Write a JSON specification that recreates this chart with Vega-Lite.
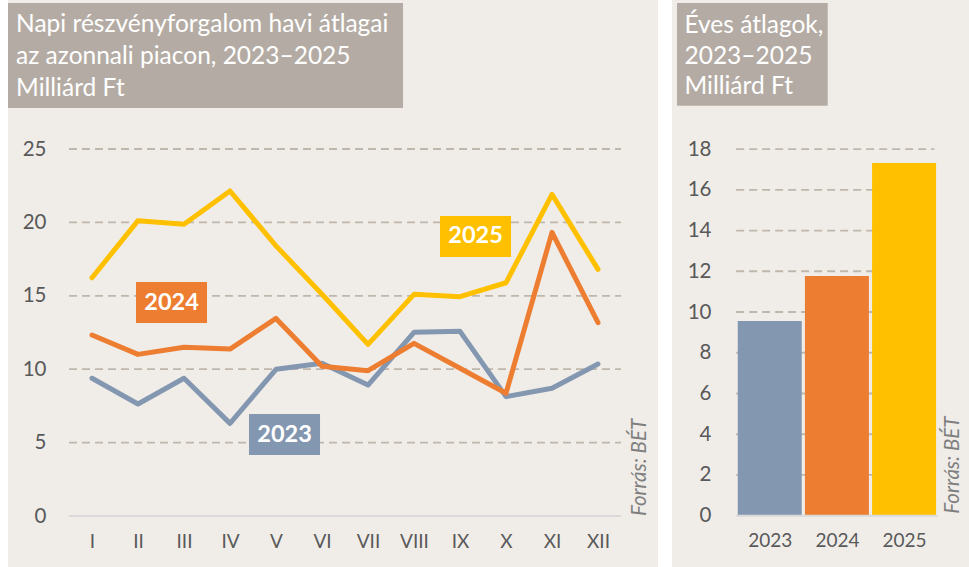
{
  "$schema": "https://vega.github.io/schema/vega-lite/v6.json",
  "background": "white",
  "padding": {"left": 8, "top": 0, "right": 0, "bottom": 0},
  "spacing": 14,
  "config": {
    "view": {"stroke": null},
    "axis": {"domain": false, "ticks": false, "tickSize": 0, "grid": false, "labelFont": "Lato", "labelFontSize": 19, "labelColor": "#595959", "title": null}
  },
  "datasets": {
    "monthly": [
      {"month": 1, "year": "2023", "v": 9.38}, {"month": 2, "year": "2023", "v": 7.63}, {"month": 3, "year": "2023", "v": 9.38},
      {"month": 4, "year": "2023", "v": 6.31}, {"month": 5, "year": "2023", "v": 9.99}, {"month": 6, "year": "2023", "v": 10.4},
      {"month": 7, "year": "2023", "v": 8.92}, {"month": 8, "year": "2023", "v": 12.51}, {"month": 9, "year": "2023", "v": 12.58},
      {"month": 10, "year": "2023", "v": 8.13}, {"month": 11, "year": "2023", "v": 8.7}, {"month": 12, "year": "2023", "v": 10.35},
      {"month": 1, "year": "2024", "v": 12.33}, {"month": 2, "year": "2024", "v": 11.01}, {"month": 3, "year": "2024", "v": 11.49},
      {"month": 4, "year": "2024", "v": 11.37}, {"month": 5, "year": "2024", "v": 13.46}, {"month": 6, "year": "2024", "v": 10.2},
      {"month": 7, "year": "2024", "v": 9.9}, {"month": 8, "year": "2024", "v": 11.76}, {"month": 9, "year": "2024", "v": 10.06},
      {"month": 10, "year": "2024", "v": 8.36}, {"month": 11, "year": "2024", "v": 19.32}, {"month": 12, "year": "2024", "v": 13.17},
      {"month": 1, "year": "2025", "v": 16.23}, {"month": 2, "year": "2025", "v": 20.12}, {"month": 3, "year": "2025", "v": 19.87},
      {"month": 4, "year": "2025", "v": 22.14}, {"month": 5, "year": "2025", "v": 18.4}, {"month": 6, "year": "2025", "v": 15.1},
      {"month": 7, "year": "2025", "v": 11.69}, {"month": 8, "year": "2025", "v": 15.1}, {"month": 9, "year": "2025", "v": 14.94},
      {"month": 10, "year": "2025", "v": 15.89}, {"month": 11, "year": "2025", "v": 21.91}, {"month": 12, "year": "2025", "v": 16.8}
    ],
    "annual": [
      {"yr": 2023, "year": "2023", "v": 9.56},
      {"yr": 2024, "year": "2024", "v": 11.77},
      {"yr": 2025, "year": "2025", "v": 17.31}
    ],
    "gridL": [{"v": 5}, {"v": 10}, {"v": 15}, {"v": 20}, {"v": 25}],
    "gridR": [{"v": 2}, {"v": 4}, {"v": 6}, {"v": 8}, {"v": 10}, {"v": 12}, {"v": 14}, {"v": 16}, {"v": 18}],
    "one": [{}],
    "src": [{"label": "Forrás: BÉT"}],
    "l2023": [{"label": "2023"}],
    "l2024": [{"label": "2024"}],
    "l2025": [{"label": "2025"}]
  },
  "hconcat": [
    {
      "width": 650,
      "height": 567,
      "view": {"fill": "#F0EDE9", "stroke": null},
      "layer": [
        {
          "data": {"name": "one"},
          "mark": {"type": "rect", "color": "#B4ACA4"},
          "encoding": {
            "x": {"datum": -0.826, "type": "quantitative", "scale": {"domain": [-0.826, 13.304], "nice": false, "zero": false}},
            "x2": {"datum": 7.761},
            "y": {"datum": 34.95, "type": "quantitative", "scale": {"domain": [-3.474, 35.15], "nice": false, "zero": false}},
            "y2": {"datum": 27.79}
          }
        },
        {
          "data": {"name": "one"},
          "mark": {"type": "text", "align": "left", "baseline": "alphabetic", "font": "Lato", "fontSize": 24.5, "color": "white", "lineHeight": 32,
            "text": ["Napi részvényforgalom havi átlagai", "az azonnali piacon, 2023–2025", "Milliárd Ft"]},
          "encoding": {
            "x": {"datum": -0.65, "type": "quantitative"},
            "y": {"datum": 32.97, "type": "quantitative"}
          }
        },
        {
          "data": {"name": "gridL"},
          "mark": {"type": "rule", "color": "#BFB6AC", "strokeWidth": 1.8, "strokeDash": [8, 5]},
          "encoding": {
            "x": {"datum": 0.5, "type": "quantitative"},
            "x2": {"datum": 12.5},
            "y": {"field": "v", "type": "quantitative"}
          }
        },
        {
          "data": {"name": "one"},
          "mark": {"type": "rule", "color": "#D9D9D9", "strokeWidth": 2},
          "encoding": {
            "x": {"datum": 0.5, "type": "quantitative"},
            "x2": {"datum": 12.5},
            "y": {"datum": 0, "type": "quantitative"}
          }
        },
        {
          "data": {"name": "monthly"},
          "mark": {"type": "line", "strokeWidth": 5, "strokeCap": "round", "strokeJoin": "round"},
          "encoding": {
            "x": {"field": "month", "type": "quantitative",
              "scale": {"domain": [-0.826, 13.304], "nice": false, "zero": false},
              "axis": {"orient": "bottom", "offset": -51, "values": [1, 2, 3, 4, 5, 6, 7, 8, 9, 10, 11, 12], "labelPadding": 16, "labelFlush": false, "labelOverlap": false,
                "labelExpr": "['I','II','III','IV','V','VI','VII','VIII','IX','X','XI','XII'][datum.value - 1]"}},
            "y": {"field": "v", "type": "quantitative",
              "scale": {"domain": [-3.474, 35.15], "nice": false, "zero": false},
              "axis": {"orient": "left", "offset": -38, "values": [0, 5, 10, 15, 20, 25], "labelPadding": 0, "labelFlush": false, "labelOverlap": false, "labelFontSize": 20.5}},
            "color": {"field": "year", "type": "nominal", "scale": {"domain": ["2023", "2024", "2025"], "range": ["#8497B0", "#ED7D31", "#FFC000"]}, "legend": null}
          }
        },
        {
          "data": {"name": "l2024"},
          "mark": {"type": "rect", "color": "#ED7D31"},
          "encoding": {"x": {"datum": 1.957, "type": "quantitative"}, "x2": {"datum": 3.5}, "y": {"datum": 15.94, "type": "quantitative"}, "y2": {"datum": 13.15}}
        },
        {
          "data": {"name": "l2024"},
          "mark": {"type": "text", "font": "Lato", "fontWeight": "bold", "fontSize": 23.5, "color": "white", "align": "center", "baseline": "middle"},
          "encoding": {"x": {"datum": 2.73, "type": "quantitative"}, "y": {"datum": 14.54, "type": "quantitative"}, "text": {"field": "label"}}
        },
        {
          "data": {"name": "l2023"},
          "mark": {"type": "rect", "color": "#8497B0"},
          "encoding": {"x": {"datum": 4.413, "type": "quantitative"}, "x2": {"datum": 5.957}, "y": {"datum": 6.95, "type": "quantitative"}, "y2": {"datum": 4.155}}
        },
        {
          "data": {"name": "l2023"},
          "mark": {"type": "text", "font": "Lato", "fontWeight": "bold", "fontSize": 23.5, "color": "white", "align": "center", "baseline": "middle"},
          "encoding": {"x": {"datum": 5.185, "type": "quantitative"}, "y": {"datum": 5.55, "type": "quantitative"}, "text": {"field": "label"}}
        },
        {
          "data": {"name": "l2025"},
          "mark": {"type": "rect", "color": "#FFC000"},
          "encoding": {"x": {"datum": 8.565, "type": "quantitative"}, "x2": {"datum": 10.109}, "y": {"datum": 20.44, "type": "quantitative"}, "y2": {"datum": 17.64}}
        },
        {
          "data": {"name": "l2025"},
          "mark": {"type": "text", "font": "Lato", "fontWeight": "bold", "fontSize": 23.5, "color": "white", "align": "center", "baseline": "middle"},
          "encoding": {"x": {"datum": 9.337, "type": "quantitative"}, "y": {"datum": 19.04, "type": "quantitative"}, "text": {"field": "label"}}
        },
        {
          "data": {"name": "src"},
          "mark": {"type": "text", "font": "Lato", "fontStyle": "italic", "fontSize": 20.5, "color": "#7F7F7F", "angle": 270, "align": "left", "baseline": "middle"},
          "encoding": {"x": {"datum": 12.913, "type": "quantitative"}, "y": {"datum": 0, "type": "quantitative"}, "text": {"field": "label"}}
        }
      ]
    },
    {
      "width": 297,
      "height": 567,
      "view": {"fill": "#F0EDE9", "stroke": null},
      "layer": [
        {
          "data": {"name": "one"},
          "mark": {"type": "rect", "color": "#B4ACA4"},
          "encoding": {
            "x": {"datum": 2021.619, "type": "quantitative", "scale": {"domain": [2021.619, 2025.892], "nice": false, "zero": false}},
            "x2": {"datum": 2023.863},
            "y": {"datum": 25.17, "type": "quantitative", "scale": {"domain": [-2.518, 25.317], "nice": false, "zero": false}},
            "y2": {"datum": 20.13}
          }
        },
        {
          "data": {"name": "one"},
          "mark": {"type": "text", "align": "left", "baseline": "alphabetic", "font": "Lato", "fontSize": 24.5, "color": "white", "lineHeight": 30.5,
            "text": ["Éves átlagok,", "2023–2025", "Milliárd Ft"]},
          "encoding": {
            "x": {"datum": 2021.73, "type": "quantitative"},
            "y": {"datum": 23.69, "type": "quantitative"}
          }
        },
        {
          "data": {"name": "gridR"},
          "mark": {"type": "rule", "color": "#BFB6AC", "strokeWidth": 1.8, "strokeDash": [8, 5]},
          "encoding": {
            "x": {"datum": 2022.5, "type": "quantitative"},
            "x2": {"datum": 2025.45},
            "y": {"field": "v", "type": "quantitative"}
          }
        },
        {
          "data": {"name": "annual"},
          "mark": {"type": "bar", "width": 64},
          "encoding": {
            "x": {"field": "yr", "type": "quantitative",
              "scale": {"domain": [2021.619, 2025.892], "nice": false, "zero": false},
              "axis": {"orient": "bottom", "offset": -51.3, "values": [2023, 2024, 2025], "format": "d", "labelPadding": 16, "labelFlush": false, "labelOverlap": false}},
            "y": {"field": "v", "type": "quantitative",
              "scale": {"domain": [-2.518, 25.317], "nice": false, "zero": false},
              "axis": {"orient": "left", "offset": -39, "values": [0, 2, 4, 6, 8, 10, 12, 14, 16, 18], "labelPadding": 0, "labelFlush": false, "labelOverlap": false, "labelFontSize": 20.5}},
            "color": {"field": "year", "type": "nominal", "scale": {"domain": ["2023", "2024", "2025"], "range": ["#8497B0", "#ED7D31", "#FFC000"]}, "legend": null}
          }
        },
        {
          "data": {"name": "one"},
          "mark": {"type": "rule", "color": "#D9D9D9", "strokeWidth": 2},
          "encoding": {
            "x": {"datum": 2022.5, "type": "quantitative"},
            "x2": {"datum": 2025.5},
            "y": {"datum": 0, "type": "quantitative"}
          }
        },
        {
          "data": {"name": "src"},
          "mark": {"type": "text", "font": "Lato", "fontStyle": "italic", "fontSize": 20.5, "color": "#7F7F7F", "angle": 270, "align": "left", "baseline": "middle"},
          "encoding": {"x": {"datum": 2025.734, "type": "quantitative"}, "y": {"datum": 0.1, "type": "quantitative"}, "text": {"field": "label"}}
        }
      ]
    }
  ]
}
